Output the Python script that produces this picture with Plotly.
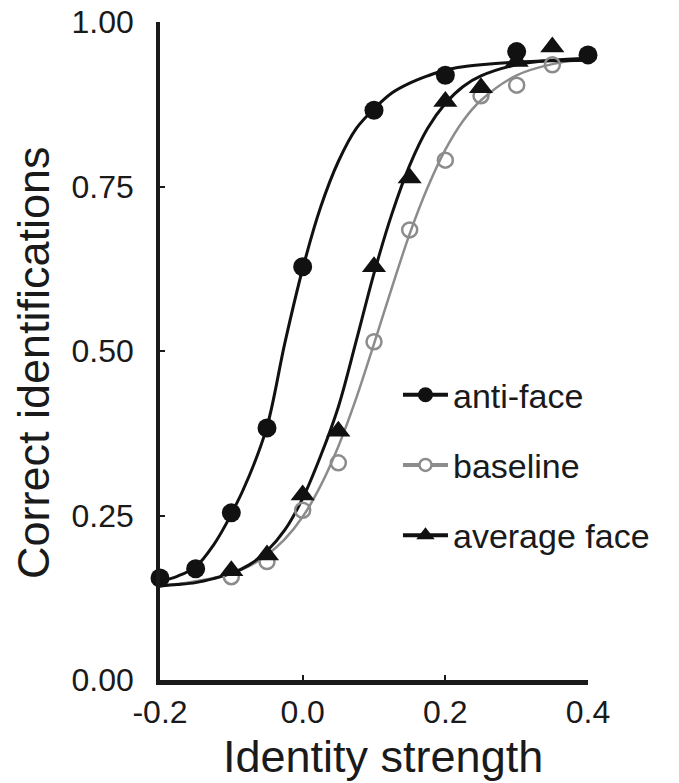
import plotly.graph_objects as go

# ---- data ----
anti_x = [-0.2, -0.15, -0.1, -0.05, 0.0, 0.1, 0.2, 0.3, 0.4]
anti_y = [0.155, 0.169, 0.254, 0.383, 0.628, 0.866, 0.919, 0.955, 0.950]

base_x = [-0.1, -0.05, 0.0, 0.05, 0.1, 0.15, 0.2, 0.25, 0.3, 0.35]
base_y = [0.157, 0.180, 0.258, 0.330, 0.514, 0.684, 0.790, 0.888, 0.904, 0.935]

avg_x = [-0.1, -0.05, 0.0, 0.05, 0.1, 0.15, 0.2, 0.25, 0.3, 0.35]
avg_y = [0.166, 0.190, 0.281, 0.378, 0.628, 0.763, 0.879, 0.900, 0.940, 0.962]

# fitted curves
fit_x = [-0.2, -0.175, -0.15, -0.125, -0.1, -0.075, -0.05, -0.025, 0.0, 0.025,
         0.05, 0.075, 0.1, 0.125, 0.15, 0.175, 0.2, 0.225, 0.25, 0.3, 0.35, 0.4]
anti_fit = [0.150, 0.158, 0.172, 0.205, 0.252, 0.310, 0.385, 0.512, 0.625, 0.718,
            0.788, 0.838, 0.868, 0.892, 0.907, 0.918, 0.927, 0.932, 0.935, 0.939, 0.941, 0.942]
base_fit = [0.144, 0.146, 0.150, 0.155, 0.162, 0.173, 0.190, 0.214, 0.248, 0.295,
            0.355, 0.428, 0.511, 0.596, 0.678, 0.748, 0.806, 0.850, 0.881, 0.919, 0.936, 0.944]
avg_fit = [0.143, 0.145, 0.148, 0.154, 0.162, 0.175, 0.196, 0.228, 0.276, 0.340,
           0.415, 0.515, 0.618, 0.708, 0.782, 0.838, 0.876, 0.902, 0.918, 0.935, 0.942, 0.945]

series_names = ["anti-face", "baseline", "average face"]
x_ticks = [-0.2, 0.0, 0.2, 0.4]
x_ticklabels = ["-0.2", "0.0", "0.2", "0.4"]
y_ticks = [0.0, 0.25, 0.5, 0.75, 1.0]
y_ticklabels = ["0.00", "0.25", "0.50", "0.75", "1.00"]
x_title = "Identity strength"
y_title = "Correct identifications"

BLACK = "#111111"
GRAY = "#8c8c8c"
TEXT = "#1a1a1a"
FONT = "Liberation Sans, Arial, sans-serif"

fig = go.Figure()

# curves
fig.add_trace(go.Scatter(x=fit_x, y=base_fit, mode="lines", line=dict(color=GRAY, width=2.5, shape="spline"),
                         showlegend=False, cliponaxis=False))
fig.add_trace(go.Scatter(x=fit_x, y=avg_fit, mode="lines", line=dict(color=BLACK, width=3, shape="spline"),
                         showlegend=False, cliponaxis=False))
fig.add_trace(go.Scatter(x=fit_x, y=anti_fit, mode="lines", line=dict(color=BLACK, width=3, shape="spline"),
                         showlegend=False, cliponaxis=False))

# markers
fig.add_trace(go.Scatter(x=base_x, y=base_y, mode="markers",
                         marker=dict(symbol="circle-open", size=15, color=GRAY, line=dict(width=2.5, color=GRAY)),
                         showlegend=False, cliponaxis=False))
fig.add_trace(go.Scatter(x=avg_x, y=avg_y, mode="markers",
                         marker=dict(symbol="triangle-up", size=21, color=BLACK),
                         showlegend=False, cliponaxis=False))
fig.add_trace(go.Scatter(x=anti_x, y=anti_y, mode="markers",
                         marker=dict(symbol="circle", size=19, color=BLACK),
                         showlegend=False, cliponaxis=False))

# legend entries
fig.add_trace(go.Scatter(x=[None], y=[None], mode="lines+markers", name=series_names[0], legendgroup="a",
                         line=dict(color=BLACK, width=4), marker=dict(symbol="circle", size=15, color=BLACK)))
fig.add_trace(go.Scatter(x=[None], y=[None], mode="lines+markers", name=series_names[1], legendgroup="b",
                         line=dict(color=GRAY, width=4),
                         marker=dict(symbol="circle", size=12, color="white", line=dict(width=2.5, color=GRAY))))
fig.add_trace(go.Scatter(x=[None], y=[None], mode="lines+markers", name=series_names[2], legendgroup="c",
                         line=dict(color=BLACK, width=4), marker=dict(symbol="triangle-up", size=16, color=BLACK)))

fig.update_layout(
    width=679, height=783,
    margin=dict(l=160, r=91, t=22, b=103, pad=0, autoexpand=False),
    paper_bgcolor="white", plot_bgcolor="white",
    font=dict(family=FONT, color=TEXT, size=32),
    showlegend=True,
    hovermode=False,
    legend=dict(x=0.556, y=0.477, xanchor="left", yanchor="top",
                font=dict(family=FONT, size=34, color=TEXT),
                tracegroupgap=23, bgcolor="rgba(0,0,0,0)", itemwidth=45),
    xaxis=dict(range=[-0.2, 0.4], tickmode="array", tickvals=x_ticks, ticktext=x_ticklabels,
               showline=True, linecolor=TEXT, linewidth=5, showgrid=False, zeroline=False,
               ticks="inside", ticklen=5, tickwidth=2, tickcolor=TEXT, automargin=False,
               tickfont=dict(size=32), ticklabelstandoff=0, ticklabeloverflow="allow"),
    yaxis=dict(range=[0, 1.0], tickmode="array", tickvals=y_ticks, ticktext=y_ticklabels,
               showline=True, linecolor=TEXT, linewidth=3.5, showgrid=False, zeroline=False,
               ticks="inside", ticklen=5, tickwidth=2, tickcolor=TEXT, automargin=False,
               tickfont=dict(size=32), ticklabelstandoff=16, ticklabeloverflow="allow"),
    annotations=[
        dict(text=x_title, xref="paper", yref="paper", x=0.522, y=-0.117, xanchor="center", yanchor="middle",
             showarrow=False, font=dict(family=FONT, size=45, color=TEXT)),
        dict(text=y_title, xref="paper", yref="paper", x=-0.297, y=0.483, xanchor="center", yanchor="middle",
             textangle=-90, showarrow=False, font=dict(family=FONT, size=45, color=TEXT)),
    ],
)

fig.write_html("out.html", config={"displayModeBar": False},
               post_script="document.body.style.margin='0';")
